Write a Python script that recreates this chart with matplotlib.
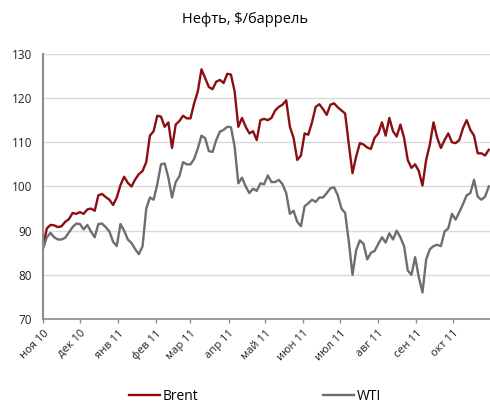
import numpy as np
import pandas as pd
import matplotlib
matplotlib.use('Agg')
import matplotlib.pyplot as plt
import matplotlib.dates as mdates

plt.rcParams['font.family'] = ['Open Sans', 'DejaVu Sans']

# Prices sampled every 3 calendar days from 1 Nov 2010
start = pd.Timestamp('2010-11-01')
step_days = 3

brent = [86.5, 90.5, 91.3, 91.2, 90.8, 91.0, 92.0, 92.6, 94.0, 93.8,
         94.2, 93.8, 94.8, 95.0, 94.5, 98.0, 98.3, 97.6, 97.0, 95.8,
         97.5, 100.3, 102.2, 100.8, 100.0, 101.6, 102.8, 103.5, 105.5, 111.5,
         112.5, 116.0, 115.8, 113.5, 114.5, 108.7, 114.0, 114.8, 116.0, 115.4,
         115.4, 118.8, 121.5, 126.5, 124.5, 122.5, 122.0, 123.7, 124.1, 123.4,
         125.5, 125.3, 121.5, 113.5, 115.5, 113.5, 112.0, 112.5, 110.5, 115.0,
         115.3, 115.0, 115.5, 117.2, 118.0, 118.5, 119.5, 113.5, 111.0, 106.0,
         107.0, 112.0, 111.7, 114.5, 118.0, 118.6, 117.5, 116.2, 118.5, 118.8,
         117.9, 117.2, 116.5, 109.5, 103.0, 106.8, 109.8, 109.5, 108.8, 108.5,
         111.0, 112.0, 114.5, 111.5, 115.5, 112.5, 111.3, 114.0, 111.0, 106.0,
         104.2, 105.0, 103.5, 100.2, 106.0, 109.5, 114.5, 111.0, 108.7, 110.5,
         112.0, 110.0, 109.8, 110.5, 113.2, 115.0, 112.8, 111.5, 107.5, 107.5,
         107.0, 108.3]

wti = [86.0, 88.5, 89.5, 88.5, 88.0, 88.0, 88.4, 89.6, 90.8, 91.6,
       91.5, 90.3, 91.3, 89.8, 88.5, 91.5, 91.6, 90.8, 89.8, 87.5,
       86.5, 91.5, 90.0, 88.0, 87.2, 85.8, 84.7, 86.5, 95.0, 97.5,
       97.0, 100.5, 105.0, 105.2, 102.0, 97.5, 101.0, 102.3, 105.5, 105.0,
       105.0, 106.2, 108.6, 111.5, 110.9, 108.0, 107.8, 110.5, 112.4, 112.8,
       113.5, 113.4, 109.0, 100.7, 102.0, 100.0, 98.5, 99.5, 99.0, 100.7,
       100.5, 102.5, 101.0, 101.0, 101.5, 100.5, 98.5, 93.8, 94.5, 92.0,
       91.0, 95.5, 96.2, 97.0, 96.5, 97.5, 97.5, 98.5, 99.6, 99.8,
       98.0, 95.0, 94.0, 87.5, 80.0, 85.6, 87.8, 87.0, 83.5, 85.0,
       85.4, 87.0, 88.5, 87.3, 89.4, 88.0, 90.0, 88.5, 86.5, 81.0,
       80.0, 84.0, 79.5, 76.0, 83.5, 85.8, 86.5, 86.8, 86.5, 89.8,
       90.5, 93.8, 92.5, 94.2, 96.0, 98.0, 98.5, 101.5, 97.7, 97.0,
       97.7, 100.0]

month_labels = ['ноя 10', 'дек 10', 'янв 11', 'фев 11', 'мар 11', 'апр 11',
                'май 11', 'июн 11', 'июл 11', 'авг 11', 'сен 11', 'окт 11']

dates = start + pd.to_timedelta(np.arange(len(brent)) * step_days, unit='D')
month_starts = pd.date_range(start, periods=len(month_labels), freq='MS')

fig = plt.figure(figsize=(4.9, 4.08), dpi=100)
ax = fig.add_axes([0.088, 0.218, 0.912, 0.650])

ax.plot(dates, brent, color='#8b0e12', lw=1.7, label='Brent')
ax.plot(dates, wti, color='#6d6e71', lw=1.7, label='WTI')

ax.set_ylim(70, 130)
ax.set_yticks(range(70, 131, 10))
ax.set_xlim(start, pd.Timestamp('2011-10-31'))
ax.set_xticks(month_starts)
ax.set_xticklabels(month_labels, rotation=45, ha='right', rotation_mode='anchor')

ax.grid(axis='y', color='#d9d9d9', lw=1)
ax.set_axisbelow(True)
for s in ['top', 'right']:
    ax.spines[s].set_visible(False)
ax.spines['left'].set_color('#8c8c8c')
ax.spines['left'].set_linewidth(1.5)
ax.spines['bottom'].set_color('#8c8c8c')
ax.spines['bottom'].set_linewidth(1.2)
ax.tick_params(axis='y', length=0, labelsize=8.5, pad=8, colors='#222222')
ax.tick_params(axis='x', length=3, width=1, color='#8c8c8c', labelsize=8, colors='#222222')
ax.tick_params(axis='x', colors='#8c8c8c', labelcolor='#222222')

fig.suptitle('Нефть, $/баррель', y=0.97, fontsize=10.5)
fig.legend(loc='lower center', ncol=2, frameon=False, fontsize=10,
           bbox_to_anchor=(0.52, -0.02), columnspacing=9, handlelength=2.2,
           handletextpad=0.2)

fig.savefig('out.png', dpi=100)
